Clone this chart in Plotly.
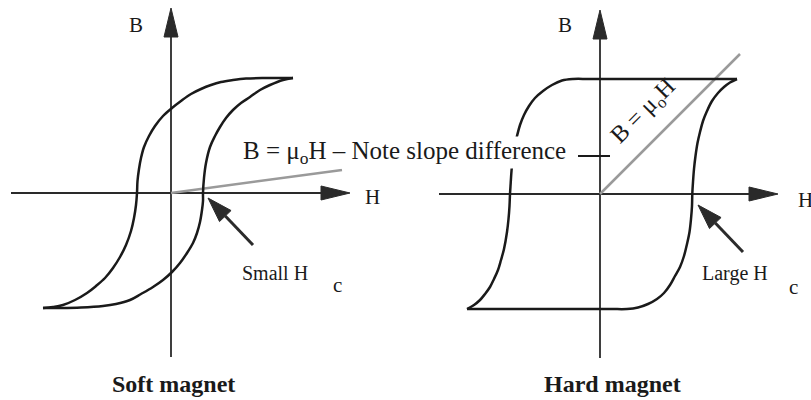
import numpy as np
import plotly.graph_objects as go

# ---- Soft magnet hysteresis loop (arbitrary units: H horizontal, B vertical)
# descending branch: +saturation -> -saturation
soft_desc_H = [122, 95, 75, 62, 50, 40, 30, 20, 10, 1, -8, -16, -22, -27, -30, -32, -33.5, -34,
               -35, -37, -40, -45, -51, -58, -66, -75, -84, -96, -108, -118, -128]
soft_desc_B = [115, 115, 114.5, 113, 111, 108, 104, 99, 92, 85, 77, 67, 57, 46, 35, 24, 12, 0,
               -12, -25, -38, -52, -64, -75, -85, -93, -100, -107, -112, -114, -115]
# ascending branch: -saturation -> +saturation
soft_asc_H = [-128, -110, -90, -68, -55, -41, -30, -18, -8, 1, 9, 16, 22, 26, 29, 31, 32, 32,
              33, 35, 39, 44, 49, 55, 62, 70, 79, 89, 99, 112, 122]
soft_asc_B = [-115, -115, -114.5, -113, -111, -107, -101, -94, -87, -79, -70, -60, -50, -40, -29, -17, -8, 0,
              15, 30, 46, 57, 66, 75, 83, 90, 96, 103, 108, 113, 115]
soft_vacuum_H = [0, 171]          # B = mu0 H reference line
soft_vacuum_B = [0, 23]

# ---- Hard magnet hysteresis loop
hard_desc_H = [137, 60, -10, -27, -38, -48, -57, -65, -71, -76, -80, -83, -85.5, -87.3, -88.5, -89.3, -90,
               -90.5, -91.5, -93, -96, -99, -102, -106, -110, -115, -120, -126, -133]
hard_desc_B = [115, 115, 115, 115, 113.5, 109, 103, 96, 88, 79, 69, 58, 47, 35, 23, 11, 0,
               -12, -25, -38, -55, -66, -76, -85, -93, -100, -106, -111, -115]
hard_asc_H = [-133, -60, 10, 27, 38, 48, 57, 64, 70, 75, 80, 84, 87, 89.5, 91, 92, 92.3,
              93, 94, 95.5, 97.5, 100, 103, 107, 112, 118, 124, 130, 137]
hard_asc_B = [-115, -115, -115, -115, -113.5, -110, -105, -99, -91, -82, -73, -62, -50, -38, -25, -12, 0,
              12, 25, 38, 51, 62, 73, 83, 93, 101, 107, 111.5, 115]
hard_vacuum_H = [0, 140]
hard_vacuum_B = [0, 140]

# ---- Axis extents (H axis, B axis) for each panel
soft_H_axis = [-160, 179]
soft_B_axis = [-164, 185]
hard_H_axis = [-161, 178]
hard_B_axis = [-164, 184]

# Coercivity pointers: (tail, tip)
soft_pointer = [(82, -52), (37, -5)]
hard_pointer = [(143, -58), (98, -11)]

FONT = "Liberation Serif, Times New Roman, serif"
INK = "#1a1a1a"
AXIS_INK = "#2a2a2a"
GREY = "#9a9a9a"

fig = go.Figure()


def line(xs, ys, color, width, panel, shape="linear"):
    fig.add_trace(go.Scatter(
        x=xs, y=ys, mode="lines",
        line=dict(color=color, width=width, shape=shape, smoothing=1.0),
        xaxis="x" if panel == 1 else "x2", yaxis="y" if panel == 1 else "y2",
        hoverinfo="skip", showlegend=False))


def head(tail, tip, length, half, panel, color):
    tip = np.array(tip, float)
    tail = np.array(tail, float)
    d = tip - tail
    d /= np.linalg.norm(d)
    n = np.array([-d[1], d[0]])
    base = tip - d * length
    pts = [tip, base + n * half, base - n * half, tip]
    fig.add_trace(go.Scatter(
        x=[p[0] for p in pts], y=[p[1] for p in pts], mode="lines",
        fill="toself", fillcolor=color, line=dict(color=color, width=1),
        xaxis="x" if panel == 1 else "x2", yaxis="y" if panel == 1 else "y2",
        hoverinfo="skip", showlegend=False))
    return base


def axes(H_axis, B_axis, panel):
    # H axis with arrow
    base = head((H_axis[0], 0), (H_axis[1], 0), 29, 7, panel, AXIS_INK)
    line([H_axis[0], base[0]], [0, 0], AXIS_INK, 2, panel)
    # B axis with arrow
    base = head((0, B_axis[0]), (0, B_axis[1]), 29, 7, panel, AXIS_INK)
    line([0, 0], [B_axis[0], base[1]], AXIS_INK, 1.8, panel)


def pointer(p, panel):
    base = head(p[0], p[1], 25, 8, panel, "#2b2b2b")
    line([p[0][0], base[0]], [p[0][1], base[1]], "#2b2b2b", 3, panel)


# Soft magnet panel
axes(soft_H_axis, soft_B_axis, 1)
line(soft_vacuum_H, soft_vacuum_B, GREY, 2.5, 1)
line(soft_desc_H, soft_desc_B, INK, 2.5, 1, "spline")
line(soft_asc_H, soft_asc_B, INK, 2.5, 1, "spline")
pointer(soft_pointer, 1)

# Hard magnet panel
axes(hard_H_axis, hard_B_axis, 2)
line(hard_vacuum_H, hard_vacuum_B, GREY, 2.5, 2)
line(hard_desc_H, hard_desc_B, INK, 2.5, 2, "spline")
line(hard_asc_H, hard_asc_B, INK, 2.5, 2, "spline")
pointer(hard_pointer, 2)
line([-22, 10], [38, 38], INK, 2, 2)


def note(text, x, y, panel, size=20, **kw):
    fig.add_annotation(
        text=text, x=x, y=y,
        xref="x" if panel == 1 else "x2", yref="y" if panel == 1 else "y2",
        showarrow=False, font=dict(family=FONT, size=size, color=INK), **kw)


note("B", -35, 168, 1, size=21)
note("H", 201, -4, 1, size=21)
note("B", -35, 169, 2, size=21)
note("H", 205, -6, 2, size=21)
note("B = μ<sub>o</sub>H – Note slope difference", 71, 41, 1, size=25,
     xanchor="left", bgcolor="white", borderpad=0)
note("B = μ<sub>o</sub>H", 44, 82, 2, size=24, textangle=-45)
note("Small H", 69, -80, 1, xanchor="left")
note("c", 166, -92, 1, size=21)
note("Large H", 100, -79, 2, xanchor="left")
note("c", 193, -93, 2, size=21)
note("<b>Soft magnet</b>", 2, -191, 1, size=24)
note("<b>Hard magnet</b>", 12, -190, 2, size=24)

fig.update_layout(
    width=811, height=400,
    margin=dict(l=0, r=0, t=0, b=0),
    paper_bgcolor="white", plot_bgcolor="white",
    showlegend=False,
    xaxis=dict(domain=[0, 405.5 / 811], range=[-171, 234.5], visible=False, anchor="y"),
    yaxis=dict(domain=[0, 1], range=[-207, 193], visible=False, anchor="x"),
    xaxis2=dict(domain=[405.5 / 811, 1], range=[-194.5, 211], visible=False, anchor="y2"),
    yaxis2=dict(domain=[0, 1], range=[-206, 194], visible=False, anchor="x2"),
)

fig.write_html("out.html")
